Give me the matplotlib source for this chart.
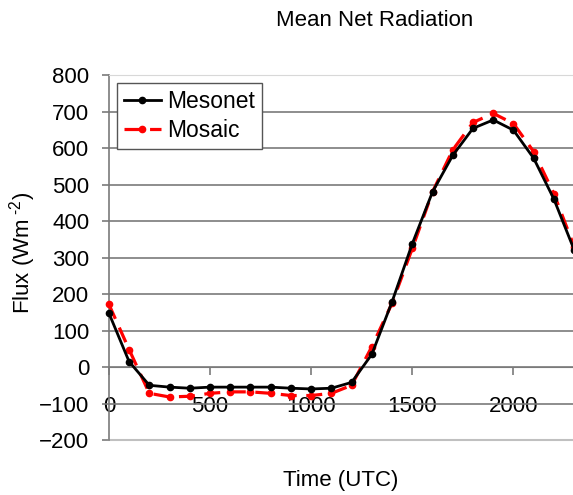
import matplotlib
matplotlib.use("Agg")
import matplotlib.pyplot as plt

plt.rcParams['font.family'] = ['Liberation Sans', 'DejaVu Sans']
plt.rcParams['mathtext.fontset'] = 'custom'
plt.rcParams['mathtext.rm'] = 'Liberation Sans'

time_utc = [0, 100, 200, 300, 400, 500, 600, 700, 800, 900, 1000, 1100,
            1200, 1300, 1400, 1500, 1600, 1700, 1800, 1900, 2000, 2100, 2200, 2300]
mesonet = [148, 15, -50, -55, -58, -55, -55, -55, -55, -58, -60, -58,
           -42, 35, 179, 338, 480, 580, 654, 677, 649, 572, 460, 321]
mosaic = [172, 48, -72, -82, -80, -72, -68, -68, -72, -78, -78, -72,
          -50, 56, 175, 325, 480, 595, 670, 695, 667, 590, 475, 330]

x_ticks = [0, 500, 1000, 1500, 2000]
y_ticks = [-200, -100, 0, 100, 200, 300, 400, 500, 600, 700, 800]

fig = plt.figure(figsize=(5.73, 4.95), dpi=100)
ax = fig.add_axes([0.190, 0.111, 0.812, 0.7374])

ax.plot(time_utc, mesonet, color='black', lw=2, marker='o', ms=4.5,
        label='Mesonet', zorder=4, clip_on=False)
ax.plot(time_utc, mosaic, color='#ff0000', lw=2.3, marker='o', ms=4.5,
        dashes=(5, 3), label='Mosaic', zorder=3, clip_on=False)

ax.set_xlim(0, 2300)
ax.set_ylim(-200, 800)
ax.set_xticks(x_ticks)
ax.set_yticks(y_ticks)

ax.grid(axis='y', color='#7a7a7a', lw=1.2)
ax.set_axisbelow(True)
gl = ax.yaxis.get_gridlines()
gl[0].set_visible(False)
gl[-1].set_visible(False)

ax.spines['bottom'].set_position(('data', 0))
ax.spines['bottom'].set_color('#7a7a7a')
ax.spines['left'].set_color('#7a7a7a')
ax.spines['left'].set_linewidth(1.2)
ax.spines['top'].set_color('#d8d8d8')
ax.spines['right'].set_visible(False)
ax.axhline(-200, color='#c0c0c0', lw=1.5, clip_on=False, zorder=1)

ax.tick_params(axis='y', direction='out', length=5, width=1.2, color='#7a7a7a',
               pad=9, labelsize=16)
ax.tick_params(axis='x', direction='out', length=6, width=1.2, color='#7a7a7a',
               pad=15, labelsize=16)

ax.legend(loc='upper left', bbox_to_anchor=(0.008, 0.99), fontsize=16.5,
          frameon=True, fancybox=False, edgecolor='#555555', framealpha=1,
          handlelength=1.6, handletextpad=0.3, labelspacing=0.25,
          borderpad=0.3, borderaxespad=0.2)

fig.text(0.653, 0.958, 'Mean Net Radiation', ha='center', va='center', fontsize=16)
fig.text(0.595, 0.030, 'Time (UTC)', ha='center', va='center', fontsize=16)
fig.text(0.039, 0.489, 'Flux (Wm$^{\\text{ -2}}$)', ha='center', va='center',
         rotation=90, fontsize=16)

fig.savefig('out.png', dpi=100)
